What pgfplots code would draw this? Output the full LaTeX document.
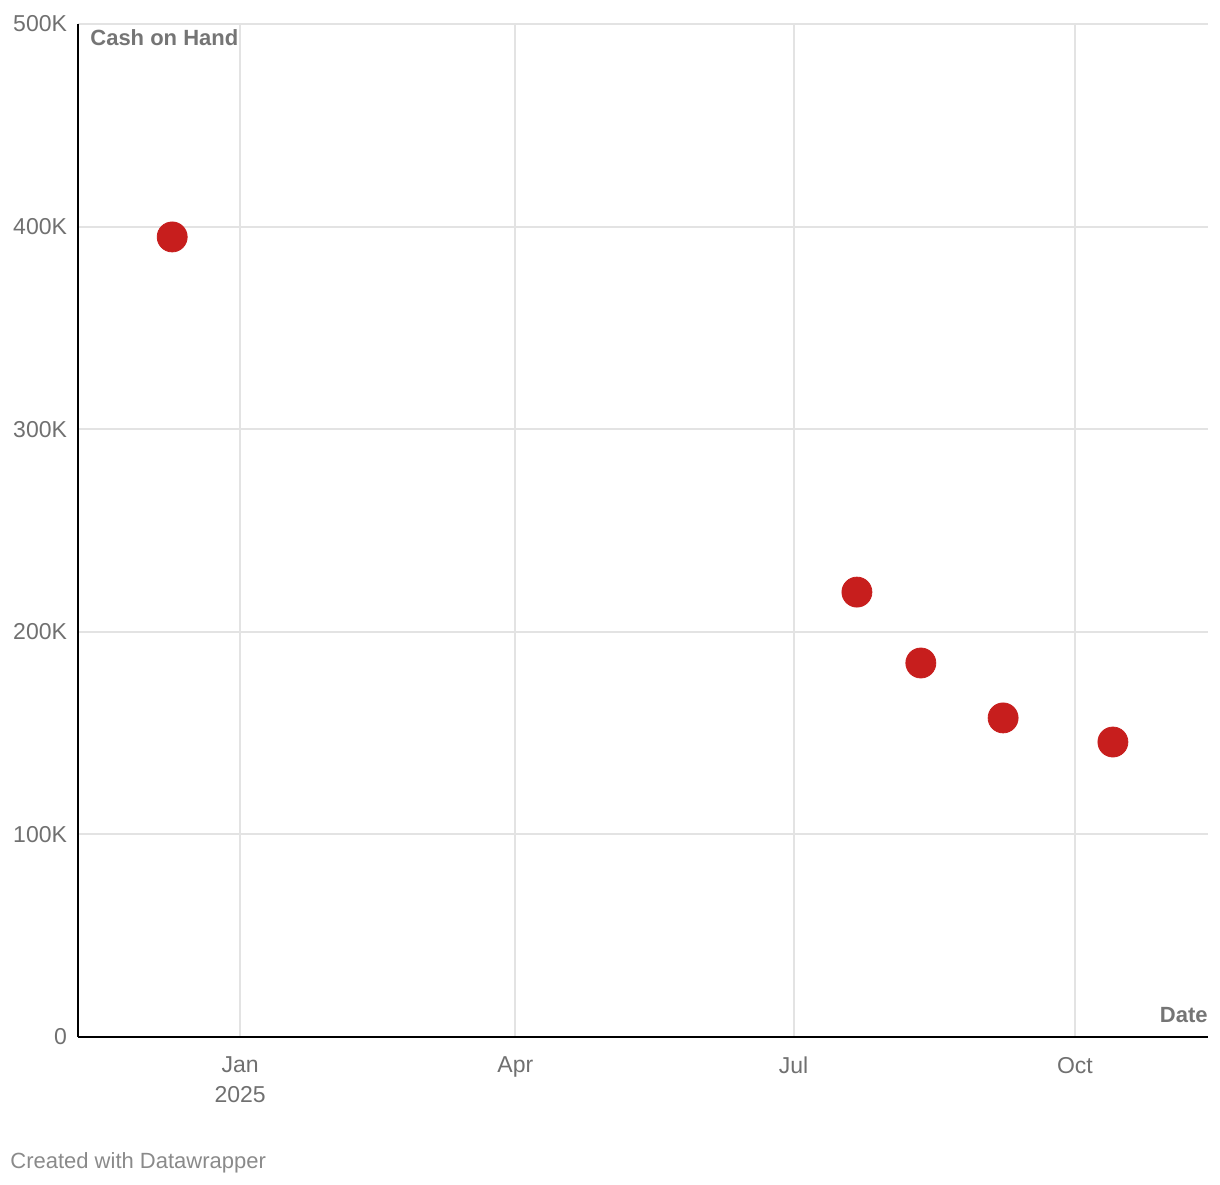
\documentclass[border=0pt]{standalone}
\usepackage{pgfplots}
\pgfplotsset{compat=1.18}
\usepackage{fontspec}
\setmainfont{Liberation Sans}
\definecolor{tickgray}{HTML}{707070}
\definecolor{titlegray}{HTML}{757575}
\definecolor{gridgray}{HTML}{E3E3E3}
\definecolor{dotred}{HTML}{C71E1D}
\definecolor{footgray}{HTML}{8A8A8A}
\begin{document}
\begin{tikzpicture}
\path[use as bounding box] (-39pt,-73.5pt) rectangle (571pt,518.5pt);
\begin{axis}[
  scale only axis,
  width=565pt, height=506.5pt,
  at={(0,0)}, anchor=south west,
  xmin=-53, xmax=316.5,
  ymin=0, ymax=500000,
  axis x line=bottom, axis y line=left,
  axis line style={black, line width=1.1pt, -},
  xtick={0,90,181,273},
  xticklabels={Jan\\2025,Apr,Jul,Oct},
  ytick={0,100000,200000,300000,400000,500000},
  yticklabels={0,100K,200K,300K,400K,500K},
  scaled y ticks=false,
  major tick length=0pt,
  xmajorgrids, ymajorgrids,
  grid style={gridgray, line width=1pt},
  xticklabel style={font=\fontsize{11.5}{15}\selectfont, text=tickgray, align=center, yshift=-6.5pt},
  yticklabel style={font=\fontsize{11.5}{13}\selectfont, text=tickgray, xshift=-2pt},
  clip=false,
]
\addplot[only marks, mark=*, mark size=7.5pt, color=dotred, mark options={draw=dotred, fill=dotred}] coordinates {
  (-22.2,394900)
  (201.7,219600)
  (222.6,184600)
  (249.5,157500)
  (285.4,145600)
};
\node[anchor=north west, inner sep=0pt, fill=white, font=\bfseries\fontsize{11}{13}\selectfont, text=titlegray] at (rel axis cs:0,1) [xshift=6pt, yshift=-2.5pt] {Cash on Hand};
\node[anchor=base east, inner sep=0pt, font=\bfseries\fontsize{11}{13}\selectfont, text=titlegray] at (rel axis cs:1,0) [yshift=7.5pt] {Date};
\end{axis}
\node[anchor=base west, inner sep=0pt, font=\fontsize{11}{13}\selectfont, text=footgray] at (-34pt,-65.5pt) {Created with Datawrapper};
\end{tikzpicture}
\end{document}
